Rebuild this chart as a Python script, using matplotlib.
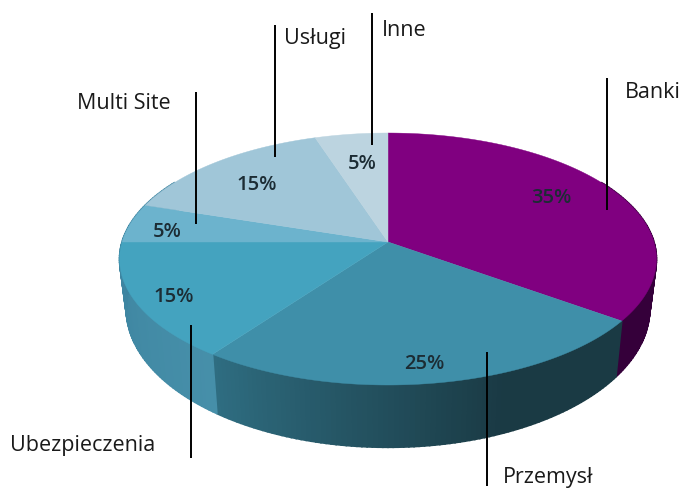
#!/usr/bin/env python3

import numpy as np
import matplotlib
matplotlib.use("Agg")
import matplotlib.pyplot as plt
from matplotlib.colors import to_rgb

categories = ["Banki", "Przemysł", "Ubezpieczenia", "Multi Site", "Usługi", "Inne"]
values = [35, 25, 15, 5, 15, 5]

top_colors = ["#800080", "#3f8fa9", "#44a3bf", "#6cb3cd", "#a0c6d8", "#bcd4e0"]
# wall colour at the clockwise start and end of each slice
wall_start = ["#35003a", "#1a3a44", "#468fa9", "#3d84a0", "#3d84a0", "#3d84a0"]
wall_end = ["#35003a", "#2f6e82", "#3d84a0", "#3d84a0", "#3d84a0", "#3d84a0"]
# part of the slice that keeps the start colour before the shading begins
wall_hold = [0, 0.35, 0, 0, 0, 0]

# pixel layout, the pie is a tilted disc seen in perspective
CX, CY = 388, 242
RX, RY, PERSP = 266, 123.7, 0.135
BOTTOM_X, BOTTOM_Y, DEPTH = 0.975, 1.1, 48

label_xy = [(625, 92), (503, 477), (10, 446), (77, 103), (284, 38), (382, 30)]
pct_xy = [(551, 198), (424, 364), (174, 297), (167, 232), (257, 185), (362, 164)]
leader_x = [607, 487, 191, 196, 275, 372]
leader_y = [(78, 210), (352, 486), (325, 458), (92, 224), (25, 157), (13, 145)]


def project(deg, bottom=False):
    # deg is clockwise from the top of the disc
    t = np.radians(deg)
    X, Y = np.sin(t), np.cos(t)
    d = 1 + PERSP * Y
    px = RX * X / d
    py = -RY * Y / d
    if bottom:
        return CX + BOTTOM_X * px, CY + BOTTOM_Y * py + DEPTH
    return CX + px, CY + py


def main():
    fig = plt.figure(figsize=(6.85, 4.91), dpi=100)
    ax = fig.add_axes([0, 0, 1, 1])
    ax.set_xlim(0, 685)
    ax.set_ylim(491, 0)
    ax.axis("off")

    edges = np.cumsum([0] + values) / sum(values) * 360

    # side wall, small strips so the shading can change along it
    for i in range(len(values)):
        a0, a1 = edges[i], edges[i + 1]
        steps = np.arange(a0, a1, 1.0).tolist() + [a1]
        c0, c1 = np.array(to_rgb(wall_start[i])), np.array(to_rgb(wall_end[i]))
        for s0, s1 in zip(steps[:-1], steps[1:]):
            if s1 < 60 or s0 > 300:
                continue
            x0, y0 = project(s0)
            x1, y1 = project(s1)
            x2, y2 = project(s1, True)
            x3, y3 = project(s0, True)
            frac = (s0 - a0) / (a1 - a0)
            mix = max(0, (frac - wall_hold[i]) / (1 - wall_hold[i]))
            col = c0 + (c1 - c0) * mix
            ax.fill([x0, x1, x2, x3], [y0, y1, y2, y3], facecolor=col, edgecolor=col, lw=1.2)

    # top face
    for i in range(len(values)):
        angles = np.linspace(edges[i], edges[i + 1], 120)
        xs, ys = project(angles)
        ax.fill(np.r_[CX, xs], np.r_[CY, ys], color=top_colors[i], lw=0.3)

    font = ["Open Sans", "DejaVu Sans"]
    for i, name in enumerate(categories):
        ax.plot([leader_x[i]] * 2, leader_y[i], color="black", lw=1.4, solid_capstyle="butt")
        ax.text(label_xy[i][0], label_xy[i][1], name, family=font, fontsize=15.5,
                color="#1a1a1a", ha="left", va="center")
        ax.text(pct_xy[i][0], pct_xy[i][1], f"{values[i]}%", family=font, fontsize=14.5,
                color="#1c2c34", ha="center", va="center", fontweight="semibold")

    fig.savefig("out.png", dpi=100)
    plt.close(fig)


if __name__ == "__main__":
    main()
